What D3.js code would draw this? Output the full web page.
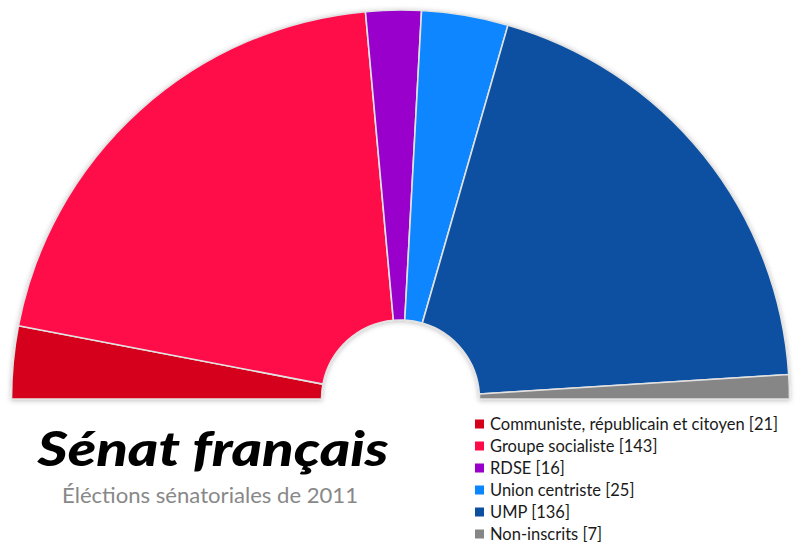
<!DOCTYPE html>
<html><head><meta charset="utf-8">
<script src="https://cdn.jsdelivr.net/npm/d3@7"></script>
<style>body{margin:0;background:#fff}svg{display:block}</style>
</head><body>
<script>
const parties = ["Communiste, républicain et citoyen","Groupe socialiste","RDSE","Union centriste","UMP","Non-inscrits"];
const seats = [21,143,16,25,136,7];
const colors = ["#d4001a","#ff0a48","#9a00cc","#0a86ff","#0c4fa0","#868686"];
const title = "Sénat français";
const subtitle = "Éléctions sénatoriales de 2011";

const W=800,H=552, cx=400.5, cy=399, R=389, r=79;
const svg=d3.select("body").append("svg").attr("width",W).attr("height",H);
const defs=svg.append("defs");
const f=defs.append("filter").attr("id","sh").attr("x","-10%").attr("y","-10%").attr("width","120%").attr("height","120%");
f.append("feDropShadow").attr("dx",0).attr("dy",1).attr("stdDeviation",2.5).attr("flood-color","#000").attr("flood-opacity",0.25);

const pie=d3.pie().sort(null).value(d=>d).startAngle(-Math.PI/2).endAngle(Math.PI/2);
const arc=d3.arc().innerRadius(r).outerRadius(R);
const g=svg.append("g").attr("transform",`translate(${cx},${cy})`).attr("filter","url(#sh)");
g.selectAll("path").data(pie(seats)).join("path")
  .attr("d",arc).attr("fill",(d,i)=>colors[i])
  .attr("stroke","#e2e2e2").attr("stroke-width",1.6).attr("stroke-linejoin","round");

svg.append("text").attr("x",213).attr("y",466).attr("text-anchor","middle")
  .attr("font-family","Lato").attr("font-weight","900").attr("font-style","italic")
  .attr("font-size",48).attr("fill","#000").text(title)
  .attr("textLength",351).attr("lengthAdjust","spacingAndGlyphs");
svg.append("text").attr("x",210).attr("y",503).attr("text-anchor","middle")
  .attr("font-family","Lato").attr("font-size",22).attr("fill","#888").text(subtitle)
  .attr("textLength",296).attr("lengthAdjust","spacingAndGlyphs");

const lg=svg.append("g");
const y=d3.scaleBand().domain(d3.range(parties.length)).range([413,545]);
parties.forEach((p,i)=>{
  const yc=y(i)+y.bandwidth()/2;
  lg.append("rect").attr("x",475).attr("y",yc-4.5).attr("width",9).attr("height",9).attr("fill",colors[i]);
  lg.append("text").attr("x",490).attr("y",yc+5.5).attr("font-family","Lato").attr("font-size",16.5)
    .attr("fill","#1a1a1a").text(`${p} [${seats[i]}]`);
});
</script>
</body></html>
